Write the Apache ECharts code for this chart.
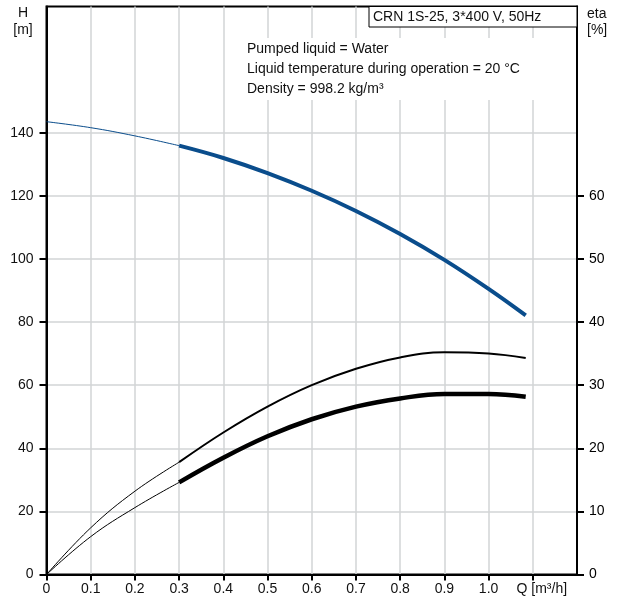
<!DOCTYPE html>
<html><head><meta charset="utf-8">
<script src="https://cdn.jsdelivr.net/npm/echarts@6/dist/echarts.min.js"></script>
<style>html,body{margin:0;padding:0;background:#fff}#c{width:617px;height:599px}</style>
</head><body><div id="c"></div><script>
// ---- data ----
const qThin = [0, 0.1, 0.2, 0.3];
const headThin = [143.5, 141.6, 139.0, 135.9];
const qMain = [0.3, 0.4, 0.5, 0.6, 0.7, 0.8, 0.9, 1.0, 1.084];
const headMain = [135.9, 132.0, 127.2, 121.6, 115.2, 107.9, 99.7, 90.5, 82.1];
const qEta = [0.3, 0.4, 0.5, 0.6, 0.7, 0.8, 0.9, 1.0, 1.084];
const etaUpperThin = [0, 7.4, 13.2, 17.8];
const etaUpperMain = [17.8, 22.5, 26.6, 30.0, 32.6, 34.4, 35.2, 35.0, 34.3];
const etaLowerThin = [0, 6.0, 10.6, 14.6];
const etaLowerMain = [14.6, 18.5, 21.9, 24.6, 26.6, 27.9, 28.6, 28.6, 28.15];
const xTicks = [0, 0.1, 0.2, 0.3, 0.4, 0.5, 0.6, 0.7, 0.8, 0.9, 1.0, 1.1];
const hTicks = [0, 20, 40, 60, 80, 100, 120, 140];
const etaTicks = [0, 10, 20, 30, 40, 50, 60];
const pumpTitle = 'CRN 1S-25, 3*400 V, 50Hz';
const infoLines = ['Pumped liquid = Water', 'Liquid temperature during operation = 20 °C', 'Density = 998.2 kg/m³'];
const qUnitLabel = 'Q [m³/h]';

const pairs = (xs, ys) => xs.map((x, i) => [x, ys[i]]);
const FONT = 'Liberation Sans, Arial, sans-serif';
const BLUE = '#0a4d8c';

const chart = echarts.init(document.getElementById('c'), null, {renderer: 'canvas'});
const lineSeries = (name, data, color, width, yIdx) => ({
  name, type: 'line', data, yAxisIndex: yIdx, smooth: 0.4, showSymbol: false,
  lineStyle: {color, width, cap: 'butt'}, animation: false, z: 5
});
const txt = (text, x, y, align) => ({type: 'text', z: 100, style: {text, x, y, fill: '#111', font: '14px ' + FONT, textAlign: align, textVerticalAlign: 'middle'}});

chart.setOption({
  animation: false,
  backgroundColor: '#fff',
  grid: {left: 46.5, right: 40, top: 6.5, bottom: 24.5, show: true, borderColor: '#000', borderWidth: 2, backgroundColor: 'transparent'},
  xAxis: {
    type: 'value', min: 0, max: 1.2, interval: 0.1,
    axisLine: {show: true, onZero: false, lineStyle: {color: '#000', width: 2}},
    axisTick: {show: true, inside: false, length: 6, lineStyle: {color: '#000', width: 2}, customValues: xTicks},
    splitLine: {show: true, lineStyle: {color: '#d2d4d6', width: 1.5}},
    axisLabel: {
      customValues: xTicks, color: '#111', fontSize: 14, fontFamily: FONT, margin: 8,
      formatter: v => Math.abs(v - 1.1) < 1e-6 ? '{q|' + qUnitLabel + '}' : (v === 0 ? '0' : v.toFixed(1)),
      rich: {q: {fontSize: 14, fontFamily: FONT, color: '#111', padding: [0, 0, 0, 18]}}
    }
  },
  yAxis: [
    {
      type: 'value', min: 0, max: 180, interval: 20, position: 'left',
      axisLine: {show: true, lineStyle: {color: '#000', width: 2}},
      axisTick: {show: true, inside: false, length: 7, lineStyle: {color: '#000', width: 2}, customValues: hTicks},
      splitLine: {show: true, lineStyle: {color: '#d2d4d6', width: 1.5}},
      axisLabel: {customValues: hTicks, color: '#111', fontSize: 14, fontFamily: FONT, margin: 13}
    },
    {
      type: 'value', min: 0, max: 90, interval: 10, position: 'right',
      axisLine: {show: true, lineStyle: {color: '#000', width: 2}},
      axisTick: {show: true, inside: false, length: 7, lineStyle: {color: '#000', width: 2}, customValues: etaTicks},
      splitLine: {show: false},
      axisLabel: {customValues: etaTicks, color: '#000', fontSize: 14, fontFamily: FONT, margin: 12}
    }
  ],
  series: [
    lineSeries('H thin', pairs(qThin, headThin), BLUE, 1, 0),
    lineSeries('H', pairs(qMain, headMain), BLUE, 4, 0),
    lineSeries('eta1 thin', pairs(qThin, etaUpperThin), '#000', 1, 1),
    lineSeries('eta1', pairs(qEta, etaUpperMain), '#000', 2, 1),
    lineSeries('eta2 thin', pairs(qThin, etaLowerThin), '#000', 1, 1),
    lineSeries('eta2', pairs(qEta, etaLowerMain), '#000', 4.5, 1)
  ],
  graphic: [
    txt('H', 23, 13, 'center'),
    txt('[m]', 23, 30, 'center'),
    txt('eta', 587, 14, 'left'),
    txt('[%]', 587, 30, 'left'),
    {type: 'rect', z: 90, shape: {x: 369, y: 6.5, width: 208, height: 20.5}, style: {fill: '#fff', stroke: '#000', lineWidth: 1}},
    txt(pumpTitle, 373, 17, 'left'),
    {type: 'rect', z: 90, shape: {x: 243, y: 38, width: 324, height: 62}, style: {fill: '#fff'}},
    txt(infoLines[0], 247, 49, 'left'),
    txt(infoLines[1], 247, 69, 'left'),
    txt(infoLines[2], 247, 89, 'left')
  ]
});
</script></body></html>
